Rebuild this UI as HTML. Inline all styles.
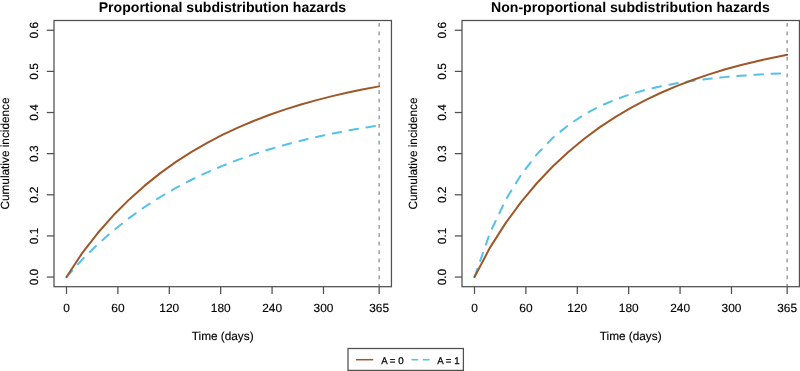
<!DOCTYPE html>
<html><head><meta charset="utf-8"><style>
html,body{margin:0;padding:0;background:#fff;}
svg{display:block;will-change:transform;}
text{font-family:"Liberation Sans",sans-serif;fill:#111;text-rendering:geometricPrecision;}
.ttl{font-weight:bold;font-size:14.1px;fill:#000;}
.tk{font-size:11.9px;fill:#000;stroke:#000;stroke-width:0.15px;}
.lab{font-size:11.8px;fill:#000;stroke:#000;stroke-width:0.15px;}
.leg{font-size:9.7px;fill:#000;stroke:#000;stroke-width:0.25px;}
.ax{stroke:#505050;stroke-width:1.25;fill:none;}
</style></head><body>
<svg width="800" height="371" viewBox="0 0 800 371">
<rect width="800" height="371" fill="#fff"/>
<text x="222.4" y="11.9" class="ttl" text-anchor="middle">Proportional subdistribution hazards</text>
<line x1="46.8" y1="277.05" x2="54.0" y2="277.05" class="ax"/>
<text transform="translate(37.5,277.05) rotate(-90)" class="tk" text-anchor="middle">0.0</text>
<line x1="46.8" y1="235.92" x2="54.0" y2="235.92" class="ax"/>
<text transform="translate(37.5,235.92) rotate(-90)" class="tk" text-anchor="middle">0.1</text>
<line x1="46.8" y1="194.78" x2="54.0" y2="194.78" class="ax"/>
<text transform="translate(37.5,194.78) rotate(-90)" class="tk" text-anchor="middle">0.2</text>
<line x1="46.8" y1="153.65" x2="54.0" y2="153.65" class="ax"/>
<text transform="translate(37.5,153.65) rotate(-90)" class="tk" text-anchor="middle">0.3</text>
<line x1="46.8" y1="112.52" x2="54.0" y2="112.52" class="ax"/>
<text transform="translate(37.5,112.52) rotate(-90)" class="tk" text-anchor="middle">0.4</text>
<line x1="46.8" y1="71.39" x2="54.0" y2="71.39" class="ax"/>
<text transform="translate(37.5,71.39) rotate(-90)" class="tk" text-anchor="middle">0.5</text>
<line x1="46.8" y1="30.25" x2="54.0" y2="30.25" class="ax"/>
<text transform="translate(37.5,30.25) rotate(-90)" class="tk" text-anchor="middle">0.6</text>
<line x1="66.50" y1="286.7" x2="66.50" y2="293.9" class="ax"/>
<text x="66.50" y="312.4" class="tk" text-anchor="middle">0</text>
<line x1="117.90" y1="286.7" x2="117.90" y2="293.9" class="ax"/>
<text x="117.90" y="312.4" class="tk" text-anchor="middle">60</text>
<line x1="169.29" y1="286.7" x2="169.29" y2="293.9" class="ax"/>
<text x="169.29" y="312.4" class="tk" text-anchor="middle">120</text>
<line x1="220.69" y1="286.7" x2="220.69" y2="293.9" class="ax"/>
<text x="220.69" y="312.4" class="tk" text-anchor="middle">180</text>
<line x1="272.08" y1="286.7" x2="272.08" y2="293.9" class="ax"/>
<text x="272.08" y="312.4" class="tk" text-anchor="middle">240</text>
<line x1="323.48" y1="286.7" x2="323.48" y2="293.9" class="ax"/>
<text x="323.48" y="312.4" class="tk" text-anchor="middle">300</text>
<line x1="379.16" y1="286.7" x2="379.16" y2="293.9" class="ax"/>
<text x="379.16" y="312.4" class="tk" text-anchor="middle">365</text>
<text x="222.7" y="340.3" class="lab" text-anchor="middle">Time (days)</text>
<text transform="translate(9.0,153.5) rotate(-90)" class="lab" text-anchor="middle">Cumulative incidence</text>
<line x1="379.16" y1="23.05" x2="379.16" y2="286.7" stroke="#8f8f8f" stroke-width="1.3" stroke-dasharray="3.7 4.7125"/>
<text x="630.4" y="11.9" class="ttl" text-anchor="middle">Non-proportional subdistribution hazards</text>
<line x1="454.8" y1="277.05" x2="462.0" y2="277.05" class="ax"/>
<text transform="translate(445.5,277.05) rotate(-90)" class="tk" text-anchor="middle">0.0</text>
<line x1="454.8" y1="235.92" x2="462.0" y2="235.92" class="ax"/>
<text transform="translate(445.5,235.92) rotate(-90)" class="tk" text-anchor="middle">0.1</text>
<line x1="454.8" y1="194.78" x2="462.0" y2="194.78" class="ax"/>
<text transform="translate(445.5,194.78) rotate(-90)" class="tk" text-anchor="middle">0.2</text>
<line x1="454.8" y1="153.65" x2="462.0" y2="153.65" class="ax"/>
<text transform="translate(445.5,153.65) rotate(-90)" class="tk" text-anchor="middle">0.3</text>
<line x1="454.8" y1="112.52" x2="462.0" y2="112.52" class="ax"/>
<text transform="translate(445.5,112.52) rotate(-90)" class="tk" text-anchor="middle">0.4</text>
<line x1="454.8" y1="71.39" x2="462.0" y2="71.39" class="ax"/>
<text transform="translate(445.5,71.39) rotate(-90)" class="tk" text-anchor="middle">0.5</text>
<line x1="454.8" y1="30.25" x2="462.0" y2="30.25" class="ax"/>
<text transform="translate(445.5,30.25) rotate(-90)" class="tk" text-anchor="middle">0.6</text>
<line x1="474.50" y1="286.7" x2="474.50" y2="293.9" class="ax"/>
<text x="474.50" y="312.4" class="tk" text-anchor="middle">0</text>
<line x1="525.90" y1="286.7" x2="525.90" y2="293.9" class="ax"/>
<text x="525.90" y="312.4" class="tk" text-anchor="middle">60</text>
<line x1="577.29" y1="286.7" x2="577.29" y2="293.9" class="ax"/>
<text x="577.29" y="312.4" class="tk" text-anchor="middle">120</text>
<line x1="628.69" y1="286.7" x2="628.69" y2="293.9" class="ax"/>
<text x="628.69" y="312.4" class="tk" text-anchor="middle">180</text>
<line x1="680.08" y1="286.7" x2="680.08" y2="293.9" class="ax"/>
<text x="680.08" y="312.4" class="tk" text-anchor="middle">240</text>
<line x1="731.48" y1="286.7" x2="731.48" y2="293.9" class="ax"/>
<text x="731.48" y="312.4" class="tk" text-anchor="middle">300</text>
<line x1="787.16" y1="286.7" x2="787.16" y2="293.9" class="ax"/>
<text x="787.16" y="312.4" class="tk" text-anchor="middle">365</text>
<text x="630.7" y="340.3" class="lab" text-anchor="middle">Time (days)</text>
<text transform="translate(417.0,153.5) rotate(-90)" class="lab" text-anchor="middle">Cumulative incidence</text>
<line x1="787.16" y1="23.05" x2="787.16" y2="286.7" stroke="#8f8f8f" stroke-width="1.3" stroke-dasharray="3.7 4.7125"/>
<path d="M66.50,277.05 L82.13,259.60 L97.77,244.24 L113.40,230.50 L129.03,218.15 L144.66,207.03 L160.30,197.00 L175.93,187.94 L191.56,179.76 L207.20,172.37 L222.83,165.68 L238.46,159.63 L254.10,154.16 L269.73,149.21 L285.36,144.72 L300.99,140.66 L316.63,136.98 L332.26,133.65 L347.89,130.63 L363.53,127.89 L379.16,125.41" fill="none" stroke="#55C1E9" stroke-width="2" stroke-linejoin="round" stroke-linecap="round" stroke-dasharray="8.57 8.57"/>
<path d="M66.50,277.05 L82.13,253.16 L97.77,233.03 L113.40,215.33 L129.03,199.64 L144.66,185.64 L160.30,173.13 L175.93,161.92 L191.56,151.85 L207.20,142.80 L222.83,134.66 L238.46,127.32 L254.10,120.71 L269.73,114.75 L285.36,109.37 L300.99,104.51 L316.63,100.11 L332.26,96.15 L347.89,92.56 L363.53,89.31 L379.16,86.37" fill="none" stroke="#9E5828" stroke-width="2" stroke-linejoin="round" stroke-linecap="round"/>
<path d="M474.50,277.05 L490.13,232.53 L505.77,199.80 L521.40,174.29 L537.03,154.10 L552.66,138.01 L568.30,125.12 L583.93,114.74 L599.56,106.37 L615.20,99.60 L630.83,94.11 L646.46,89.65 L662.10,86.03 L677.73,83.08 L693.36,80.68 L708.99,78.72 L724.63,77.12 L740.26,75.81 L755.89,74.73 L771.53,73.86 L787.16,73.14" fill="none" stroke="#55C1E9" stroke-width="2" stroke-linejoin="round" stroke-linecap="round" stroke-dasharray="8.57 8.57"/>
<path d="M474.50,277.05 L490.13,247.34 L505.77,222.87 L521.40,201.64 L537.03,183.00 L552.66,166.54 L568.30,151.95 L583.93,138.98 L599.56,127.42 L615.20,117.11 L630.83,107.89 L646.46,99.64 L662.10,92.26 L677.73,85.64 L693.36,79.70 L708.99,74.37 L724.63,69.58 L740.26,65.28 L755.89,61.41 L771.53,57.94 L787.16,54.81" fill="none" stroke="#9E5828" stroke-width="2" stroke-linejoin="round" stroke-linecap="round"/>
<rect x="54.00" y="20.50" width="337.45" height="266.20" fill="none" class="ax"/>
<rect x="462.00" y="20.50" width="337.45" height="266.20" fill="none" class="ax"/>
<rect x="348" y="348.5" width="115.4" height="21.9" fill="#fff" stroke="#505050" stroke-width="1.25"/>
<line x1="356" y1="359.7" x2="373.2" y2="359.7" stroke="#9E5828" stroke-width="1.5"/>
<line x1="411.5" y1="359.7" x2="418.1" y2="359.7" stroke="#55C1E9" stroke-width="1.6"/>
<line x1="422.7" y1="359.7" x2="429.6" y2="359.7" stroke="#55C1E9" stroke-width="1.6"/>
<text x="381.2" y="363.5" class="leg">A = 0</text>
<text x="437.2" y="363.5" class="leg">A = 1</text>
</svg>
</body></html>
